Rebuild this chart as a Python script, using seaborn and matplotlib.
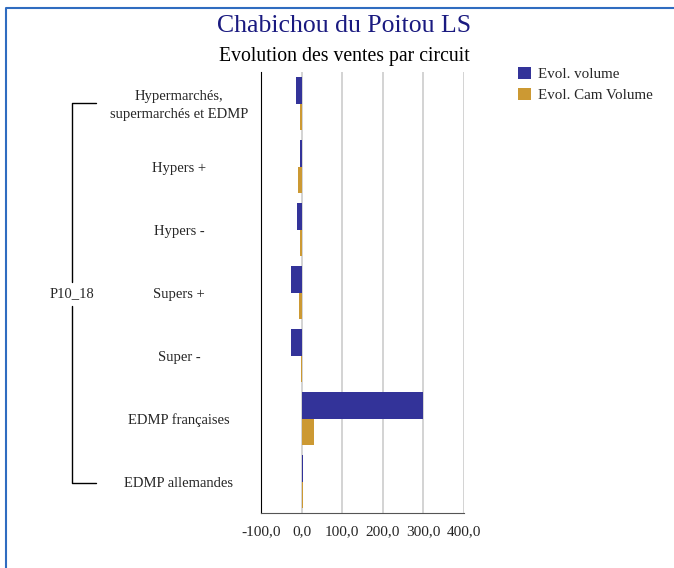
import numpy as np
import pandas as pd
import seaborn as sns
import matplotlib.pyplot as plt
from matplotlib.lines import Line2D
from matplotlib.ticker import FuncFormatter
from matplotlib.transforms import blended_transform_factory, offset_copy

# valeurs
circuits = ["Hypermarchés,\nsupermarchés et EDMP", "Hypers +", "Hypers -",
            "Supers +", "Super -", "EDMP françaises", "EDMP allemandes"]
evol_volume = [-15, -5, -12, -25, -25, 300, 3]
evol_cam_volume = [-5, -8, -4, -6, -2, 30, 3]
series = ["Evol. volume", "Evol. Cam Volume"]
groupe = "P10_18"
xticks = [-100, 0, 100, 200, 300, 400]

donnees = pd.DataFrame({
    "circuit": circuits * 2,
    "serie": [series[0]] * len(circuits) + [series[1]] * len(circuits),
    "valeur": evol_volume + evol_cam_volume,
})

sns.set_style("white")
plt.rcParams["font.family"] = ["Liberation Serif", "DejaVu Serif"]

fig = plt.figure(figsize=(6.74, 5.68), dpi=100)
ax = fig.add_axes([261 / 674, 1 - 513 / 568, 203 / 674, 441 / 568])

sns.barplot(data=donnees, x="valeur", y="circuit", hue="serie", orient="h",
            order=circuits, hue_order=series, palette=["#333399", "#CC9933"],
            width=0.83, ax=ax, legend=True, saturation=1, linewidth=0,
            edgecolor="none")

ax.set_xlim(-100, 400)
ax.set_xticks(xticks)
ax.xaxis.set_major_formatter(FuncFormatter(lambda v, p: f"{v:.1f}".replace(".", ",")))
ax.grid(axis="x", color="#cccccc", linewidth=1.2)
ax.set_axisbelow(True)
ax.set_xlabel("")
ax.set_ylabel("")
for s in ["top", "right"]:
    ax.spines[s].set_visible(False)
ax.spines["left"].set_color("black")
ax.spines["bottom"].set_color("#555555")
ax.tick_params(axis="x", length=0, pad=9, labelsize=11)
ax.tick_params(axis="y", length=0, labelleft=False)

# libellés des circuits, centrés à gauche de l'axe
trans = offset_copy(blended_transform_factory(fig.transFigure, ax.transData),
                    fig=fig, y=-2, units="dots")
for pos, nom in zip(ax.get_yticks(), circuits):
    ax.text(179 / 674, pos, nom, transform=trans, ha="center", va="center",
            multialignment="center", linespacing=1.45, fontsize=10.5)

leg = ax.legend(loc="upper left", bbox_to_anchor=(504 / 674, 1 - 53 / 568),
                bbox_transform=fig.transFigure, frameon=False, fontsize=10.8,
                handlelength=0.9, handleheight=0.9, handletextpad=0.5,
                labelspacing=0.45)

fig.text(344 / 674, 1 - 26 / 568, "Chabichou du Poitou LS", ha="center", va="center",
         fontsize=18.5, color="#1a1a80")
fig.text(344 / 674, 1 - 56 / 568, "Evolution des ventes par circuit", ha="center",
         va="center", fontsize=14.2, color="black")

# accolade du groupe
def fx(x):
    return x / 674

def fy(y):
    return 1 - y / 568

fig.add_artist(Line2D([fx(96), fx(72), fx(72)], [fy(103), fy(103), fy(282)],
                      color="black", linewidth=1))
fig.add_artist(Line2D([fx(72), fx(72), fx(96)], [fy(306), fy(483), fy(483)],
                      color="black", linewidth=1))
fig.text(fx(72), fy(294), groupe, ha="center", va="center", fontsize=10.5)

# cadre bleu
fig.add_artist(Line2D([fx(5.5), fx(5.5), fx(674)], [fy(568), fy(8), fy(8)],
                      color="#2f6cc0", linewidth=1.5))

fig.savefig("out.png", dpi=100)
